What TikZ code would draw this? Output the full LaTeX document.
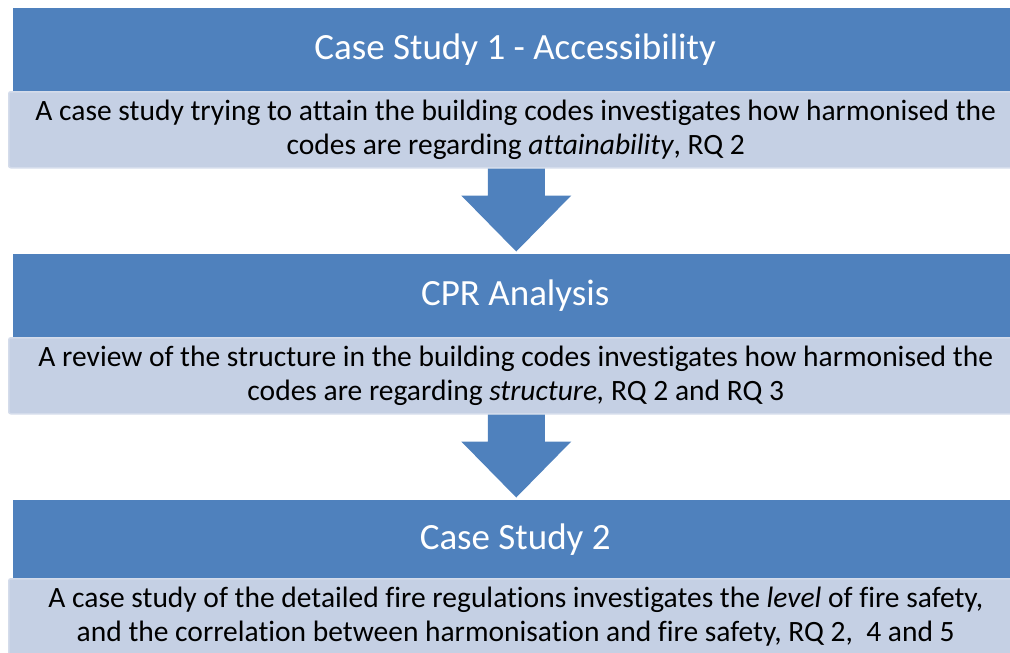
\documentclass[tikz,border=0pt]{standalone}
\usepackage{fontspec}
\setmainfont[Ligatures=NoCommon]{Carlito}
\usetikzlibrary{calc,positioning}
\definecolor{hdblue}{RGB}{79,129,189}
\definecolor{bodyblue}{RGB}{197,208,228}
\definecolor{bodyedge}{RGB}{212,220,235}
\tikzset{
	head/.style={fill=hdblue, anchor=north west, inner sep=0pt, minimum width=1004pt, minimum height=83pt, text=white, font=\fontsize{37}{44}\selectfont},
	body/.style={fill=bodyblue, draw=bodyedge, line width=1.5pt, rounded corners=2pt, anchor=north west, inner sep=0pt, minimum width=1014pt, minimum height=76pt, align=center, font=\fontsize{29.5}{33.5}\selectfont}
}
\newcommand{\flowarrow}[1]{\fill[hdblue] ([xshift=-28pt]#1.south) -- ++(57,0) -- ++(0,27) -- ++(26.5,0) -- ++(-55,56) -- ++(-55,-56) -- ++(26.5,0) -- cycle;}

\begin{document}
\begin{tikzpicture}[x=1pt, y=-1pt]
		%%%%% START %%%%%
		\useasboundingbox (0,0) rectangle (1010,653);
		
		\node[head] (case1) at (13, 8) {Case Study 1 - Accessibility};
		\node[body] (case1txt) at (8, 91) {A case study trying to attain the building codes investigates how harmonised the\\codes are regarding \textit{attainability}, RQ 2};
		
		\node[head] (cpr) at (13, 254) {CPR Analysis};
		\node[body] (cprtxt) at (8, 337) {A review of the structure in the building codes investigates how harmonised the\\codes are regarding \textit{structure,} RQ 2 and RQ 3};
		
		\node[head, minimum height=78pt] (case2) at (13, 500) {Case Study 2};
		\node[body] (case2txt) at (8, 578) {A case study of the detailed fire regulations investigates the \textit{level} of fire safety,\\and the correlation between harmonisation and fire safety, RQ 2,\ \ 4 and 5};
		
		\flowarrow{case1txt}
		\flowarrow{cprtxt}
		
		%%%%% END %%%%%
\end{tikzpicture}
\end{document}
